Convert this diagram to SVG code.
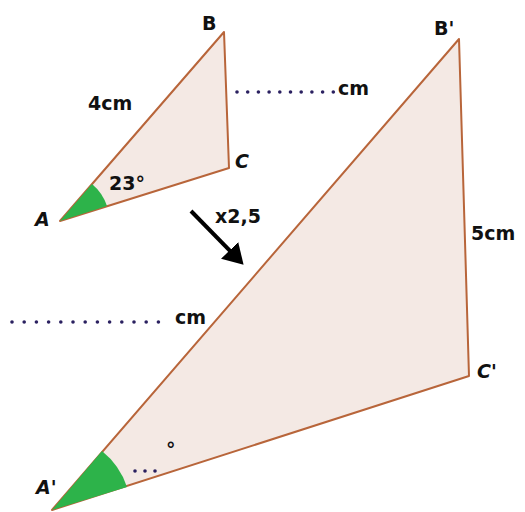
<svg xmlns="http://www.w3.org/2000/svg" width="525" height="512" viewBox="0 0 525 512">
<style>
.tri{fill:#f4e9e4;stroke:#b8653a;stroke-width:2;stroke-linejoin:round}
.ang{fill:#2db34a}
.t{font-family:"DejaVu Sans","Liberation Sans",sans-serif;font-weight:bold;fill:#111;font-size:19px}
.it{font-style:italic}
.dot{fill:#2a2060}
</style>
<defs>
<marker id="ah" markerWidth="6" markerHeight="6" refX="3" refY="3" orient="auto" markerUnits="strokeWidth">
<path d="M0,0 L5,3 L0,6 Z" fill="#000"/>
</marker>
</defs>
<g id="triangle-ABC">
<polygon class="tri" points="60,221 224,32 229,168"/>
<path class="ang" d="M60,221 L92,184 A49,49 0 0 1 107,206 Z"/>
<text class="t" x="202" y="30">B</text>
<text class="t" x="88" y="110">4cm</text>
<text class="t" x="109" y="190">23°</text>
<text class="t it" x="35" y="226">A</text>
<text class="t it" x="235" y="168">C</text>
</g>
<g id="label-BC">
<g class="dot">
<circle cx="237" cy="92" r="1.8"/><circle cx="247.7" cy="92" r="1.8"/><circle cx="258.4" cy="92" r="1.8"/><circle cx="269.1" cy="92" r="1.8"/><circle cx="279.8" cy="92" r="1.8"/><circle cx="290.5" cy="92" r="1.8"/><circle cx="301.2" cy="92" r="1.8"/><circle cx="311.9" cy="92" r="1.8"/><circle cx="322.6" cy="92" r="1.8"/><circle cx="333.3" cy="92" r="1.8"/>
</g>
<text class="t" x="338" y="95">cm</text>
</g>
<g id="triangle-A1B1C1">
<polygon class="tri" points="52,510 459,39 469,376"/>
<path class="ang" d="M52,510 L102,451 A78,78 0 0 1 127,487 Z"/>
<text class="t" x="434" y="35">B'</text>
<text class="t" x="471" y="240">5cm</text>
<text class="t it" x="477" y="378">C'</text>
<text class="t it" x="36" y="494">A'</text>
<text class="t" x="166" y="456" font-size="24">°</text>
<g class="dot">
<circle cx="135" cy="471" r="1.8"/><circle cx="145" cy="471" r="1.8"/><circle cx="155" cy="471" r="1.8"/>
</g>
</g>
<g id="label-AB1">
<g class="dot">
<circle cx="12" cy="322" r="1.8"/><circle cx="24.2" cy="322" r="1.8"/><circle cx="36.4" cy="322" r="1.8"/><circle cx="48.6" cy="322" r="1.8"/><circle cx="60.8" cy="322" r="1.8"/><circle cx="73" cy="322" r="1.8"/><circle cx="85.2" cy="322" r="1.8"/><circle cx="97.4" cy="322" r="1.8"/><circle cx="109.6" cy="322" r="1.8"/><circle cx="121.8" cy="322" r="1.8"/><circle cx="134" cy="322" r="1.8"/><circle cx="146.2" cy="322" r="1.8"/><circle cx="158.4" cy="322" r="1.8"/>
</g>
<text class="t" x="175" y="324">cm</text>
</g>
<g id="connectors">
<line x1="191" y1="211" x2="238" y2="259" stroke="#000" stroke-width="4" marker-end="url(#ah)"/>
<text class="t" x="215" y="223" font-size="21">x2,5</text>
</g>
</svg>
